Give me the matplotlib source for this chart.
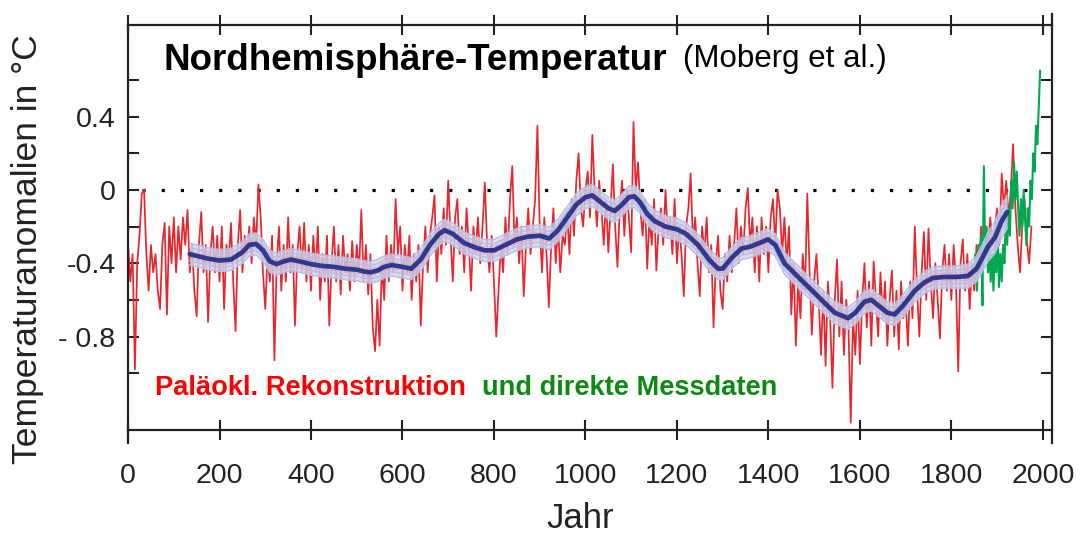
import numpy as np
import matplotlib
matplotlib.use("Agg")
import matplotlib.pyplot as plt

plt.rcParams['font.family'] = ['Liberation Sans', 'DejaVu Sans']

# Paleoclimate reconstruction (red), 5-year steps from year 0
recon_start = 0
recon_step = 5
recon = [
    -0.30, -0.50, -0.35, -0.98, -0.40, -0.25, -0.02, 0.00, -0.35, -0.55,
    -0.30, -0.45, -0.35, -0.55, -0.65, -0.30, -0.18, -0.68, -0.20, -0.40,
    -0.15, -0.45, -0.20, -0.38, -0.15, -0.30, -0.11, -0.45, -0.30, -0.55,
    -0.69, -0.30, -0.12, -0.45, -0.30, -0.72, -0.35, -0.20, -0.45, -0.25,
    -0.50, -0.20, -0.65, -0.30, -0.40, -0.18, -0.50, -0.77, -0.30, -0.11,
    -0.45, -0.25, -0.35, -0.20, -0.40, -0.15, -0.30, 0.03, -0.15, -0.45,
    -0.65, -0.35, -0.50, -0.25, -0.93, -0.40, -0.20, -0.55, -0.30, -0.50,
    -0.15, -0.45, -0.30, -0.74, -0.35, -0.20, -0.45, -0.18, -0.50, -0.30,
    -0.55, -0.25, -0.45, -0.20, -0.60, -0.35, -0.50, -0.25, -0.74, -0.40,
    -0.20, -0.50, -0.30, -0.57, -0.25, -0.45, -0.35, -0.55, -0.28, -0.50,
    -0.30, -0.45, -0.11, -0.50, -0.30, -0.57, -0.35, -0.75, -0.88, -0.60,
    -0.85, -0.40, -0.60, -0.25, -0.50, -0.30, -0.45, -0.05, -0.35, -0.20,
    -0.55, -0.30, -0.45, -0.25, -0.60, -0.35, -0.50, -0.30, -0.74, -0.40,
    -0.20, -0.45, -0.25, -0.15, -0.03, -0.50, -0.20, -0.35, -0.10, -0.30,
    0.05, -0.25, -0.50, -0.15, -0.05, -0.35, -0.20, -0.45, -0.10, -0.30,
    -0.55, -0.20, -0.35, -0.15, -0.40, -0.20, 0.04, -0.30, -0.45, -0.25,
    -0.50, -0.80, -0.55, -0.30, -0.45, -0.15, -0.35, -0.05, 0.13, -0.30,
    -0.15, -0.40, -0.20, -0.58, -0.30, -0.10, -0.35, -0.20, -0.05, 0.35,
    -0.20, -0.45, -0.15, -0.35, -0.64, -0.30, -0.10, -0.40, -0.20, -0.45,
    -0.25, -0.30, -0.12, -0.35, -0.05, -0.25, 0.05, 0.20, -0.10, -0.20,
    0.00, 0.10, -0.15, 0.30, 0.00, -0.20, 0.05, -0.10, -0.30, -0.05,
    -0.34, -0.10, 0.14, -0.20, -0.42, -0.10, 0.05, -0.25, 0.00, -0.15,
    -0.34, 0.37, 0.00, 0.15, -0.10, -0.25, -0.05, -0.43, -0.15, -0.30,
    -0.05, -0.44, -0.20, -0.10, -0.30, 0.00, -0.25, -0.15, -0.35, -0.05,
    -0.40, -0.20, -0.35, -0.58, -0.20, -0.10, 0.09, -0.30, -0.15, -0.40,
    -0.58, -0.20, -0.35, -0.15, -0.45, -0.30, -0.75, -0.40, -0.25, -0.55,
    -0.65, -0.35, -0.50, -0.25, -0.45, -0.30, -0.10, -0.40, -0.20, -0.35,
    -0.10, 0.01, -0.30, -0.15, -0.45, -0.20, -0.50, -0.15, -0.35, -0.20,
    -0.45, -0.15, -0.05, -0.30, 0.00, -0.10, -0.35, -0.15, -0.40, -0.20,
    -0.68, -0.40, -0.85, -0.50, -0.70, -0.35, -0.55, -0.02, -0.45, -0.79,
    -0.50, -0.35, -0.60, -0.90, -0.55, -0.96, -0.50, -0.70, -1.08, -0.60,
    -0.38, -0.80, -0.50, -0.90, -0.60, -0.75, -1.27, -0.70, -0.90, -0.55,
    -0.95, -0.60, -0.40, -0.75, -0.50, -0.85, -0.39, -0.60, -0.80, -0.45,
    -0.70, -0.50, -0.85, -0.60, -0.44, -0.80, -0.55, -0.87, -0.50, -0.70,
    -0.60, -0.85, -0.50, -0.70, -0.20, -0.55, -0.80, -0.45, -0.23, -0.60,
    -0.21, -0.50, -0.70, -0.40, -0.60, -0.81, -0.45, -0.30, -0.55, -0.35,
    -0.60, -0.30, -0.50, -0.99, -0.40, -0.27, -0.55, -0.35, -0.65, -0.40,
    -0.55, -0.30, -0.45, -0.20, -0.40, -0.25, -0.35, -0.15, -0.30, -0.20,
    -0.10, -0.30, 0.09, -0.10, 0.05, -0.15, 0.00, 0.25, -0.10, -0.30,
    -0.45, -0.20, -0.05, -0.28, -0.40, -0.20,
]

# Instrumental measurements (green)
meas_years = [1850, 1853, 1856, 1859, 1862, 1865, 1868, 1871, 1874, 1877,
              1880, 1883, 1886, 1889, 1892, 1895, 1898, 1901, 1904, 1907,
              1910, 1913, 1916, 1919, 1922, 1925, 1928, 1931, 1934, 1937,
              1940, 1943, 1946, 1949, 1952, 1955, 1958, 1961, 1964, 1967,
              1970, 1973, 1976, 1979, 1982, 1985, 1988, 1991, 1994]
meas = [-0.45, -0.35, -0.55, -0.30, -0.45, -0.25, -0.63, 0.13, -0.35, -0.20,
        -0.45, -0.30, -0.50, -0.35, -0.55, -0.30, -0.45, -0.20, -0.53, -0.35,
        -0.50, -0.30, -0.40, -0.15, -0.30, -0.10, -0.25, 0.05, -0.10, 0.15,
        -0.05, 0.10, -0.10, -0.25, -0.05, -0.20, 0.00, -0.15, -0.30, -0.10,
        -0.20, 0.05, -0.05, 0.20, 0.10, 0.35, 0.25, 0.45, 0.65]

# Smoothed reconstruction (blue) and its uncertainty half-width
smooth_years = [135, 150, 175, 200, 225, 250, 265, 280, 295, 310, 325, 340,
                356, 375, 400, 425, 450, 475, 500, 515, 530, 545, 560, 576,
                600, 619, 640, 660, 680, 692, 710, 735, 760, 780, 800, 825,
                850, 874, 900, 921, 940, 960, 980, 1000, 1015, 1030, 1050,
                1064, 1080, 1095, 1107, 1120, 1135, 1151, 1175, 1200, 1220,
                1246, 1270, 1290, 1300, 1320, 1341, 1360, 1380, 1399, 1415,
                1435, 1457, 1475, 1500, 1520, 1545, 1574, 1590, 1610, 1625,
                1640, 1660, 1676, 1695, 1720, 1741, 1760, 1785, 1810, 1836,
                1855, 1870, 1880, 1895, 1910, 1922]
smooth = [-0.35, -0.36, -0.375, -0.385, -0.38, -0.34, -0.30, -0.295, -0.33,
          -0.39, -0.405, -0.39, -0.38, -0.39, -0.405, -0.415, -0.42, -0.43,
          -0.435, -0.445, -0.45, -0.44, -0.42, -0.41, -0.42, -0.43, -0.38,
          -0.30, -0.24, -0.22, -0.24, -0.29, -0.315, -0.33, -0.33, -0.30,
          -0.27, -0.255, -0.25, -0.265, -0.22, -0.15, -0.08, -0.04, -0.03,
          -0.06, -0.10, -0.115, -0.08, -0.04, -0.035, -0.07, -0.13, -0.17,
          -0.20, -0.215, -0.24, -0.30, -0.38, -0.43, -0.43, -0.37, -0.32,
          -0.31, -0.29, -0.27, -0.30, -0.40, -0.455, -0.50, -0.56, -0.61,
          -0.67, -0.70, -0.67, -0.61, -0.60, -0.63, -0.67, -0.68, -0.63,
          -0.55, -0.505, -0.48, -0.475, -0.475, -0.47, -0.43, -0.36, -0.31,
          -0.26, -0.17, -0.12]
smooth_err = [0.06] * 86 + [0.065, 0.07, 0.075, 0.08, 0.085, 0.09, 0.09]

recon_years = np.arange(len(recon)) * recon_step + recon_start
sm = np.array(smooth)
err = np.array(smooth_err)

fig = plt.figure(figsize=(10.87, 5.35), dpi=100)
ax = fig.add_axes([0.1178, 0.1963, 0.8500, 0.7570])

dark = '#222222'

# zero line (dotted)
ax.plot([30, 1980], [0, 0], color='black', lw=2.3, linestyle=(0, (1.0, 5.0)),
        dash_capstyle='butt', zorder=1)

ax.plot(recon_years, recon, color='#e8262d', lw=1.25, zorder=2)
ax.plot(meas_years, meas, color='#00a84f', lw=1.5, zorder=3)

# uncertainty band around smoothed curve
ax.fill_between(smooth_years, sm - err, sm + err, color='#cfd4ee', alpha=0.8,
                lw=0, zorder=4)
for f in (1.0, 0.6):
    ax.plot(smooth_years, sm + err * f, color='#b7bde3', lw=1.0, zorder=4)
    ax.plot(smooth_years, sm - err * f, color='#b7bde3', lw=1.0, zorder=4)
ax.plot(smooth_years, sm + err * 0.35, color='#e3a3b8', lw=0.8,
        linestyle='--', zorder=4)
ax.plot(smooth_years, sm - err * 0.35, color='#e3a3b8', lw=0.8,
        linestyle='--', zorder=4)
ax.plot(smooth_years, smooth, color='#2e3a8f', lw=3.4, zorder=5,
        solid_joinstyle='round', solid_capstyle='round')

ax.set_xlim(0, 2020)
ax.set_ylim(-1.31, 0.90)

ax.set_xticks(np.arange(0, 2001, 200))
yt = [-1.0, -0.8, -0.6, -0.4, -0.2, 0.0, 0.2, 0.4, 0.6]
ax.set_yticks(yt)
ax.set_yticklabels(['', '- 0.8', '', '-0.4', '', '0', '', '0.4', ''])

ax.tick_params(axis='x', direction='inout', length=14, width=1.5,
               top=True, labelsize=20.5, pad=17, colors=dark)
ax.tick_params(axis='y', direction='in', length=8, width=1.5,
               right=True, labelsize=20.5, pad=9, colors=dark)

for s in ax.spines.values():
    s.set_linewidth(1.6)
    s.set_color(dark)
ax.spines['left'].set_bounds(-1.38, 0.90)
ax.spines['right'].set_bounds(-1.38, 0.96)

fig.text(0.150, 0.886, 'Nordhemisphäre-Temperatur', fontsize=26.5,
         fontweight='bold', va='center', ha='left', color='black')
fig.text(0.628, 0.889, '(Moberg et al.)', fontsize=22.5, va='center',
         ha='left', color='black')
fig.text(0.1426, 0.275, 'Paläokl. Rekonstruktion', fontsize=19.6,
         fontweight='bold', color='#ff0000', va='center', ha='left')
fig.text(0.4434, 0.275, 'und direkte Messdaten', fontsize=19.6,
         fontweight='bold', color='#0b8a12', va='center', ha='left')

fig.text(0.025, 0.535, 'Temperaturanomalien in °C', fontsize=25.5,
         rotation=90, va='center', ha='center', color=dark)
fig.text(0.534, 0.030, 'Jahr', fontsize=25, va='center', ha='center',
         color=dark)

fig.savefig('out.png', dpi=100)
